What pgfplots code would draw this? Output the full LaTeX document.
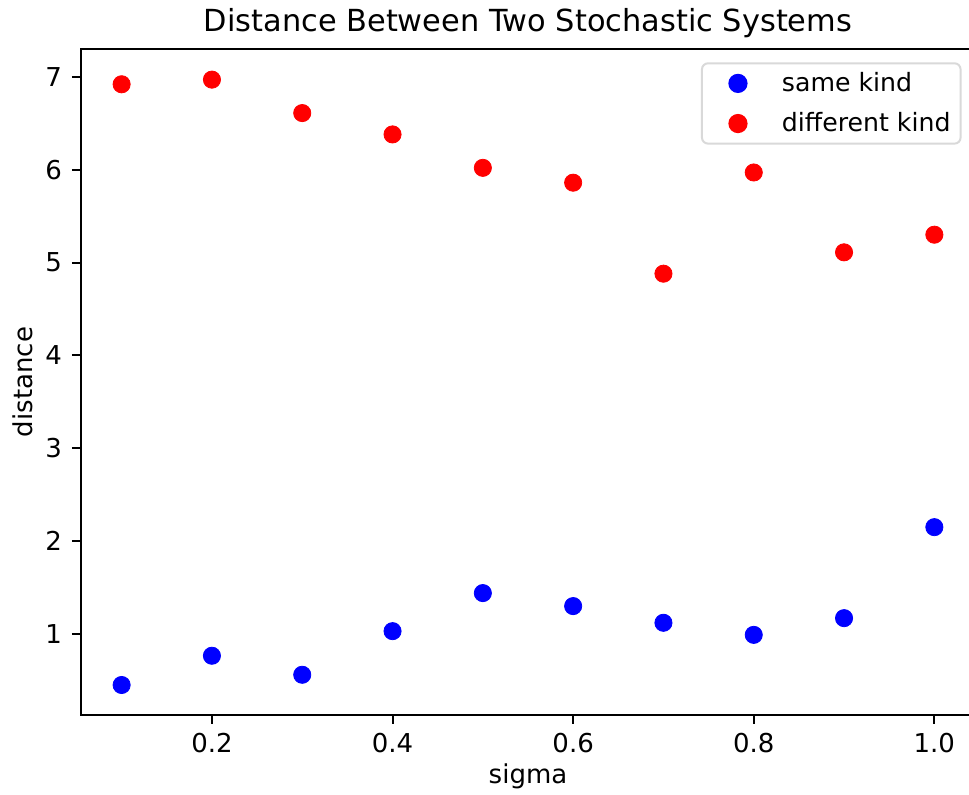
\documentclass[border=0pt]{standalone}
\usepackage{fontspec}
\setmainfont{DejaVu Sans}
\usepackage{pgfplots}
\pgfplotsset{compat=1.18}

\begin{document}
\begin{tikzpicture}
\begin{axis}[
    scale only axis,
    width=447pt, height=333pt,
    xmin=0.055, xmax=1.045,
    ymin=0.127, ymax=7.30,
    xtick={0.2,0.4,0.6,0.8,1.0},
    ytick={1,2,3,4,5,6,7},
    xticklabel style={yshift=-1pt, /pgf/number format/fixed,
        /pgf/number format/fixed zerofill, /pgf/number format/precision=1},
    /pgf/number format/assume math mode=true,
    tick align=outside,
    tick pos=left,
    major tick length=4.5pt,
    tick style={black, line width=1pt},
    axis line style={line width=1pt},
    tick label style={font=\fontsize{13}{15}\selectfont},
    yticklabel style={xshift=-1.5pt},
    label style={font=\fontsize{13}{15}\selectfont},
    title={Distance Between Two Stochastic Systems},
    title style={font=\fontsize{15.2}{18}\selectfont,
        at={(axis description cs:0.5,1.008)}, anchor=base},
    xlabel={sigma},
    ylabel={distance},
    xlabel style={at={(axis description cs:0.5,-0.1036)}, anchor=base},
    ylabel style={at={(axis description cs:-0.0537,0.5)}, anchor=base},
    legend style={at={(0.985,0.98)}, anchor=north east, draw=black!15,
        line width=1pt, rounded corners=3pt, font=\fontsize{12.6}{15}\selectfont,
        row sep=5pt, inner xsep=3pt, inner ysep=2.5pt},
    legend cell align=left,
    legend image code/.code={
        \path[draw=none, fill=none] (0pt,-4pt) rectangle (35pt,4pt);
        \draw[#1] plot coordinates {(15pt,0pt)};
    },
]
\addplot[only marks, mark=*, mark size=4.3pt, color=blue] coordinates {
    (0.1,0.45) (0.2,0.765) (0.3,0.56) (0.4,1.03) (0.5,1.44)
    (0.6,1.30) (0.7,1.12) (0.8,0.99) (0.9,1.17) (1.0,2.15)
};
\addlegendentry{same kind}
\addplot[only marks, mark=*, mark size=4.3pt, color=red] coordinates {
    (0.1,6.92) (0.2,6.97) (0.3,6.61) (0.4,6.38) (0.5,6.02)
    (0.6,5.86) (0.7,4.88) (0.8,5.97) (0.9,5.11) (1.0,5.30)
};
\addlegendentry{different kind}
\end{axis}
\pgfresetboundingbox
\useasboundingbox (-40.5pt,-40pt) rectangle (444pt,357.5pt);
\end{tikzpicture}
\end{document}
